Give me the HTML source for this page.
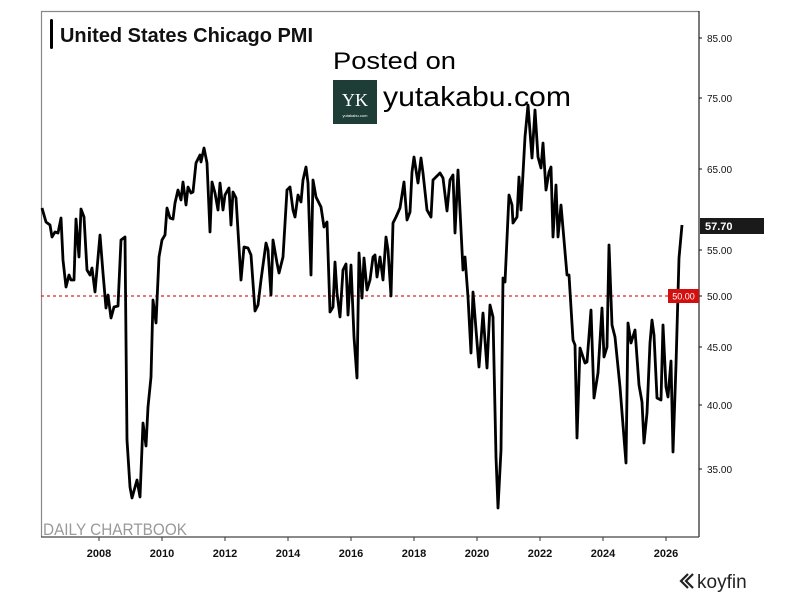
<!DOCTYPE html>
<html><head><meta charset="utf-8"><style>
body{margin:0;background:#fff;}
svg{display:block;font-family:"Liberation Sans",Arial,sans-serif;}
</style></head><body>
<svg width="795" height="595" viewBox="0 0 795 595" xmlns="http://www.w3.org/2000/svg">
<rect width="795" height="595" fill="#fff"/>
<path d="M41.5 537 V11.5 H699" fill="none" stroke="#888" stroke-width="1.2"/>
<line x1="699" y1="11" x2="699" y2="537" stroke="#222" stroke-width="1.2"/>
<line x1="41" y1="537" x2="699" y2="537" stroke="#444" stroke-width="1.2"/>
<rect x="50" y="19" width="3" height="30" rx="1.5" fill="#000"/>
<text x="60" y="42" font-size="20" font-weight="bold" fill="#111" textLength="253" lengthAdjust="spacingAndGlyphs">United States Chicago PMI</text>
<text x="333" y="69" font-size="24" fill="#000" textLength="123" lengthAdjust="spacingAndGlyphs">Posted on</text>
<rect x="333" y="80" width="44" height="44" fill="#1e3d36"/>
<text x="355" y="106" font-size="18" fill="#fff" text-anchor="middle" font-family="Liberation Serif,serif">YK</text>
<text x="355" y="117" font-size="4" fill="#fff" text-anchor="middle">yutakabu.com</text>
<text x="383" y="106" font-size="28" fill="#000" textLength="188" lengthAdjust="spacingAndGlyphs">yutakabu.com</text>
<g font-size="10" fill="#111">
<line x1="699" y1="38" x2="702" y2="38" stroke="#111"/><text x="707" y="42">85.00</text>
<line x1="699" y1="98" x2="702" y2="98" stroke="#111"/><text x="707" y="102">75.00</text>
<line x1="699" y1="169" x2="702" y2="169" stroke="#111"/><text x="707" y="173">65.00</text>
<line x1="699" y1="250" x2="702" y2="250" stroke="#111"/><text x="707" y="254">55.00</text>
<line x1="699" y1="296" x2="702" y2="296" stroke="#111"/><text x="707" y="300">50.00</text>
<line x1="699" y1="347" x2="702" y2="347" stroke="#111"/><text x="707" y="351">45.00</text>
<line x1="699" y1="405" x2="702" y2="405" stroke="#111"/><text x="707" y="409">40.00</text>
<line x1="699" y1="469" x2="702" y2="469" stroke="#111"/><text x="707" y="473">35.00</text>
</g>
<g font-size="11" font-weight="bold" fill="#111" text-anchor="middle">
<g stroke="#333"><line x1="99" y1="537" x2="99" y2="541"/><line x1="162" y1="537" x2="162" y2="541"/><line x1="225" y1="537" x2="225" y2="541"/><line x1="288" y1="537" x2="288" y2="541"/><line x1="351" y1="537" x2="351" y2="541"/><line x1="414" y1="537" x2="414" y2="541"/><line x1="477" y1="537" x2="477" y2="541"/><line x1="540" y1="537" x2="540" y2="541"/><line x1="603" y1="537" x2="603" y2="541"/><line x1="666" y1="537" x2="666" y2="541"/></g>
<text x="99" y="557">2008</text><text x="162" y="557">2010</text><text x="225" y="557">2012</text><text x="288" y="557">2014</text><text x="351" y="557">2016</text><text x="414" y="557">2018</text><text x="477" y="557">2020</text><text x="540" y="557">2022</text><text x="603" y="557">2024</text><text x="666" y="557">2026</text>
</g>
<line x1="41" y1="296" x2="668" y2="296" stroke="#d42a2a" stroke-width="1.3" stroke-dasharray="3,3"/>
<rect x="700" y="218" width="64" height="16" fill="#1a1a1a"/>
<text x="705" y="230" font-size="11" font-weight="bold" fill="#fff">57.70</text>
<polyline fill="none" stroke="#000" stroke-width="2.8" stroke-linejoin="round" points="
42,208 46,222 50,225 52,237 55,232 58,233 61,218 63,260 66,287 69,275 71,280 74,280 76,219 79,257 81,209 84,217 87,270 90,275 92,268 95,292 100,235 103,273 106,308 108,295 111,318 114,307 118,306 121,240 125,237 126,340 127,440 130,487 132,498 137,480 140,497 143,423 146,446 148,407 151,377 153,300 156,323 159,257 162,240 165,235 167,208 170,218 173,219 175,203 178,190 181,200 183,182 186,205 188,187 191,193 193,192 196,163 200,155 201,162 204,148 207,163 210,232 212,182 215,193 218,210 220,183 223,210 225,195 229,188 231,225 233,192 236,198 241,280 244,247 248,248 251,255 255,311 258,305 261,280 266,243
268,250 271,295 273,240 277,263 279,273 283,257 287,190 290,187 293,210 295,217 298,195 301,202 303,180 306,167 308,183 311,275 313,180 316,197 321,207 324,227 327,222 330,312 333,307 335,262 337,293 340,317 343,270 346,264 348,315 351,265 354,337 357,378 359,253 362,298 364,258 367,290 370,280 373,257 375,255 377,277 380,257 383,280 386,237 388,250 391,296 393,223 396,217 400,208 404,182 407,220 410,212 412,172 414,157 418,183 421,158 423,173 427,210 431,217 433,180 440,173 443,178 447,211 450,180 453,175 455,233 458,170 463,270 465,257 468,297 471,353 473,292 479,367 483,313 487,368 490,305 493,317 496,457 498,508 501,450 503,278 505,282 509,195 512,205 513,223 517,217 519,177 521,210 525,137 528,105 532,158 535,110 538,157 541,168 543,143 546,190 549,172 551,167 553,237 556,185 558,237 561,205 567,275 569,275 573,340 575,345 577,438 580,348 585,363 587,362 591,310 594,398 598,373 602,308 604,357 607,347 609,245 612,325 615,337 620,387 626,463 628,323 631,343 635,330 639,385 642,402 644,443 647,413 650,343 652,320 654,335 657,398 661,400 663,325 666,387 668,397 671,361 673,452 676,365 679,258 682,225"/>
<rect x="668" y="289" width="31" height="14" fill="#d40f0f"/>
<text x="683.5" y="299.5" font-size="9" fill="#fff" text-anchor="middle">50.00</text>
<text x="43" y="535" font-size="17" fill="#9a9a9a" textLength="144" lengthAdjust="spacingAndGlyphs">DAILY CHARTBOOK</text>
<path d="M688 574 L681 581 L688 588 M693 574 L686 581 L693 588" fill="none" stroke="#222" stroke-width="2.2"/>
<text x="697" y="588" font-size="19" fill="#222">koyfin</text>
</svg>
</body></html>
